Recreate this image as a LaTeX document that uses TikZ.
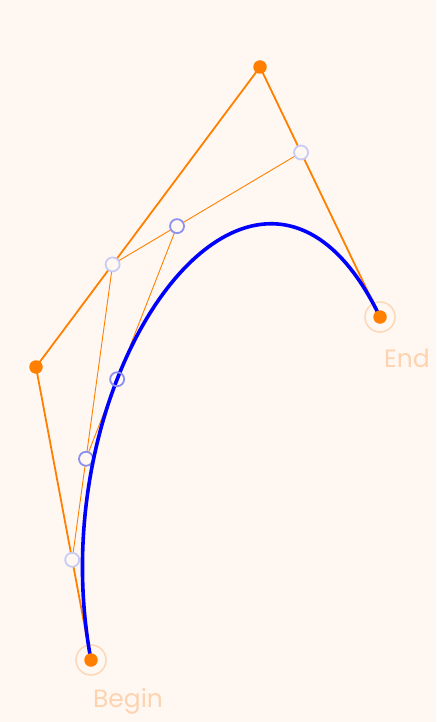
\documentclass[tikz,border=0pt]{standalone}
\usepackage{fontspec}
\setmainfont{Poppins}
\usetikzlibrary{calc}
\definecolor{bg}{HTML}{FFF8F2}
\definecolor{org}{HTML}{FF7F00}
\definecolor{ring}{HTML}{FDD9BB}
\definecolor{lab}{HTML}{FDD3B0}
\definecolor{lvA}{HTML}{C8CCF5}
\definecolor{lvB}{HTML}{8C90F0}
\tikzset{
  hull/.style={draw=org, line width=1.8pt},
  thin/.style={draw=org, line width=0.9pt},
  ctrl/.style={circle, fill=org, inner sep=0pt, minimum size=13.5pt},
  endring/.style={circle, draw=ring, line width=1.6pt, inner sep=0pt, minimum size=30pt},
  ptA/.style={circle, draw=lvA, fill=bg, line width=1.8pt, inner sep=0pt, minimum size=14pt},
  ptB/.style={circle, draw=lvB, fill=bg, line width=1.8pt, inner sep=0pt, minimum size=14pt},
  ptC/.style={circle, draw=lvB, line width=1.8pt, inner sep=0pt, minimum size=14pt},
  lbl/.style={text=lab, font=\fontsize{25}{30}\selectfont},
}
\begin{document}
\begin{tikzpicture}[x=1pt, y=-1pt]
\useasboundingbox[fill=bg] (0,0) rectangle (436,722);
\def\tt{0.342}
\coordinate (P0) at (91,660);
\coordinate (P1) at (36,367);
\coordinate (P2) at (260,67);
\coordinate (P3) at (380,317);
\coordinate (Q0) at ($(P0)!\tt!(P1)$);
\coordinate (Q1) at ($(P1)!\tt!(P2)$);
\coordinate (Q2) at ($(P2)!\tt!(P3)$);
\coordinate (R0) at ($(Q0)!\tt!(Q1)$);
\coordinate (R1) at ($(Q1)!\tt!(Q2)$);
\coordinate (S) at ($(R0)!\tt!(R1)$);
\draw[hull] (P0) -- (P1) -- (P2) -- (P3);
\draw[thin] (Q0) -- (Q1) -- (Q2);
\draw[thin] (R0) -- (R1);
\node[endring] (ringB) at (P0) {};
\node[endring] (ringE) at (P3) {};
\node[ptA] (q0) at (Q0) {};
\node[ptA] (q1) at (Q1) {};
\node[ptA] (q2) at (Q2) {};
\node[ptB] (r0) at (R0) {};
\node[ptB] (r1) at (R1) {};
\draw[blue, line width=3.6pt, line cap=round] (P0) .. controls (P1) and (P2) .. (P3);
\node[ptC] (s) at (S) {};
\node[ctrl] (c0) at (P0) {};
\node[ctrl] (c1) at (P1) {};
\node[ctrl] (c2) at (P2) {};
\node[ctrl] (c3) at (P3) {};
\node[lbl] (begin) at (128,701) {Begin};
\node[lbl] (end) at (407,358) {End};
\end{tikzpicture}
\end{document}
